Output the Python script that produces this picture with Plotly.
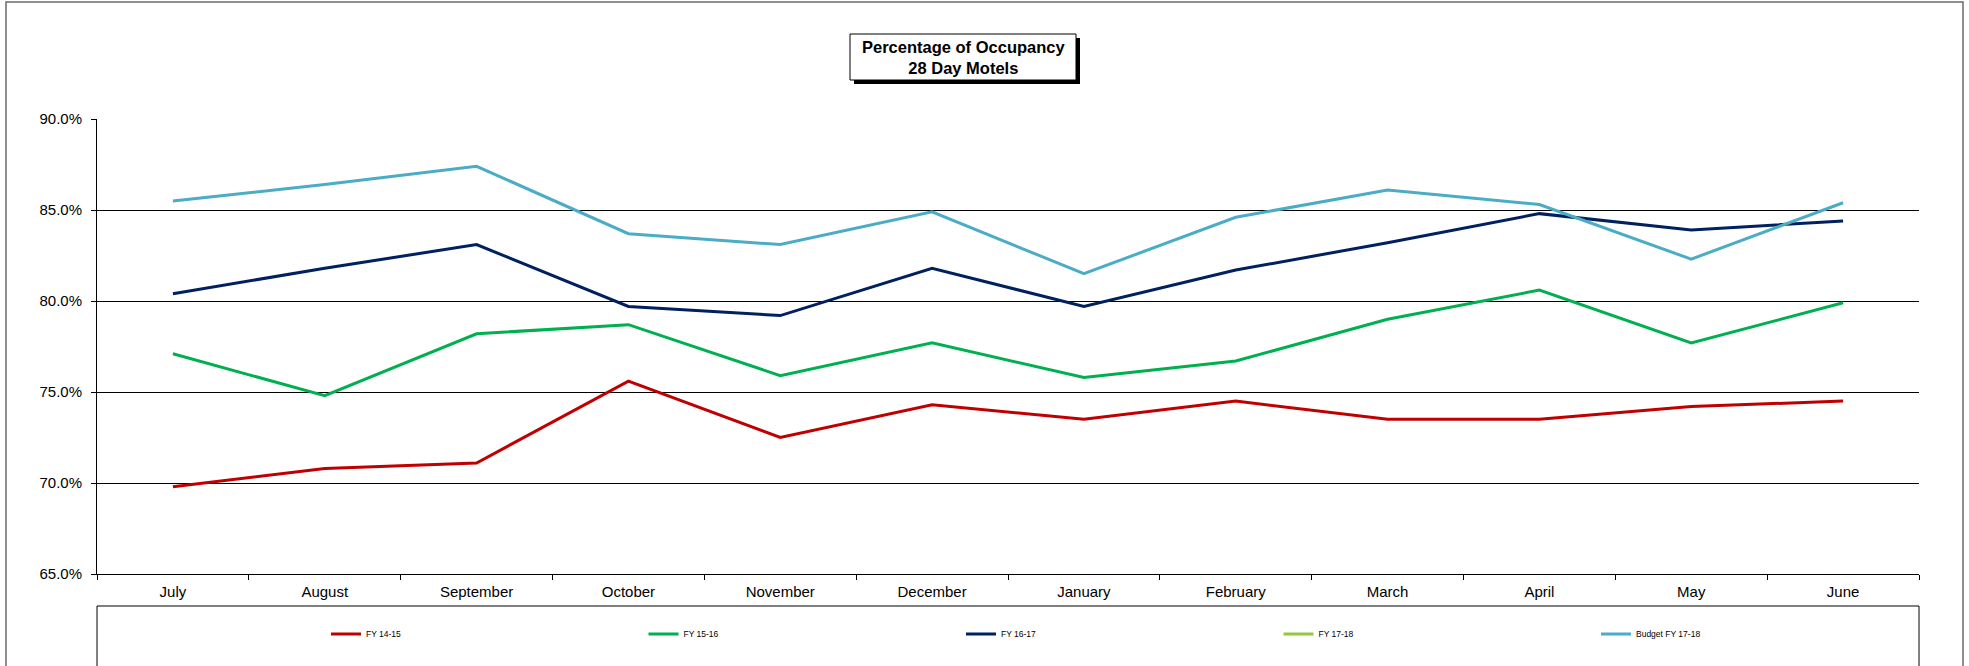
import plotly.graph_objects as go

months = ["July", "August", "September", "October", "November", "December",
          "January", "February", "March", "April", "May", "June"]

fy_14_15 = [69.8, 70.8, 71.1, 75.6, 72.5, 74.3, 73.5, 74.5, 73.5, 73.5, 74.2, 74.5]
fy_15_16 = [77.1, 74.8, 78.2, 78.7, 75.9, 77.7, 75.8, 76.7, 79.0, 80.6, 77.7, 79.9]
fy_16_17 = [80.4, 81.8, 83.1, 79.7, 79.2, 81.8, 79.7, 81.7, 83.2, 84.8, 83.9, 84.4]
fy_17_18 = [None] * 12
budget_17_18 = [85.5, 86.4, 87.4, 83.7, 83.1, 84.9, 81.5, 84.6, 86.1, 85.3, 82.3, 85.4]

series = [
    ("FY 14-15", fy_14_15, "#C00000"),
    ("FY 15-16", fy_15_16, "#00B050"),
    ("FY 16-17", fy_16_17, "#002060"),
    ("FY 17-18", fy_17_18, "#92C83E"),
    ("Budget FY 17-18", budget_17_18, "#4BACC6"),
]

W, H = 1969, 666
L, R, T, B = 97, 1919, 119, 574  # plot area in pixels


def px(x):
    return (x - L) / (R - L)


def py(y):
    return (B - y) / (B - T)


fig = go.Figure()
for name, vals, color in series:
    fig.add_trace(go.Scatter(
        x=months, y=[v / 100 if v is not None else None for v in vals],
        mode="lines", name=name,
        line=dict(color=color, width=3),
    ))

font_main = "Liberation Sans, Arial, sans-serif"

fig.update_layout(
    width=W, height=H,
    margin=dict(l=L, r=W - R, t=T, b=H - B, autoexpand=False),
    paper_bgcolor="white", plot_bgcolor="white",
    showlegend=True,
    legend=dict(
        orientation="h", x=px(326), xanchor="left", y=py(634), yanchor="middle",
        font=dict(family="Liberation Sans Narrow, Arial Narrow, Liberation Sans, Arial", size=8.5, color="black"),
        entrywidth=272.5, entrywidthmode="pixels",
        bgcolor="rgba(0,0,0,0)", traceorder="normal",
        itemwidth=30,
    ),
    xaxis=dict(
        type="category", tickson="boundaries", ticks="outside", ticklen=5,
        tickcolor="black", showline=True, linecolor="black", linewidth=1,
        showgrid=False, tickfont=dict(family=font_main, size=15, color="black"),
        ticklabelstandoff=4, range=[-0.5, 11.5], fixedrange=True,
    ),
    yaxis=dict(
        range=[0.65, 0.90], dtick=0.05, tickformat=".1%",
        ticks="outside", ticklen=5, tickcolor="black",
        showline=True, linecolor="black", linewidth=1,
        showgrid=True, gridcolor="black", gridwidth=1,
        zeroline=False,
        tickfont=dict(family=font_main, size=15, color="black"),
        ticklabelstandoff=6,
    ),
)

shapes = [
    # outer frame
    dict(type="rect", xref="paper", yref="paper",
         x0=px(6), x1=px(1963), y0=py(720), y1=py(2),
         line=dict(color="#6b6b6b", width=1.5), fillcolor="rgba(0,0,0,0)", layer="below"),
    # legend box
    dict(type="rect", xref="paper", yref="paper",
         x0=px(L), x1=px(R), y0=py(720), y1=py(606),
         line=dict(color="black", width=1), fillcolor="rgba(0,0,0,0)", layer="below"),
    # title shadow
    dict(type="rect", xref="paper", yref="paper",
         x0=px(854), x1=px(1080), y0=py(84), y1=py(38),
         line=dict(width=0), fillcolor="black", layer="above"),
    # title box
    dict(type="rect", xref="paper", yref="paper",
         x0=px(850), x1=px(1076), y0=py(80), y1=py(34),
         line=dict(color="black", width=1), fillcolor="white", layer="above"),
]
fig.update_layout(shapes=shapes)

fig.add_annotation(
    x=px(963), y=py(57), xref="paper", yref="paper",
    text="<b>Percentage of Occupancy<br>28 Day Motels</b>",
    showarrow=False, xanchor="center", yanchor="middle",
    font=dict(family=font_main, size=16.5, color="black"),
)

fig.write_html("out.html",
               config={"displayModeBar": False},
               post_script="document.body.style.margin='0';document.body.style.overflow='hidden';")
